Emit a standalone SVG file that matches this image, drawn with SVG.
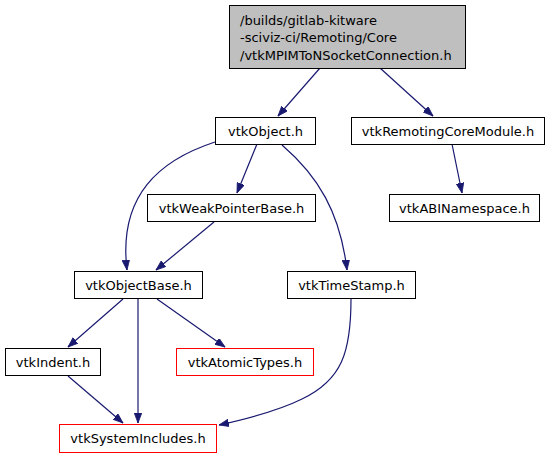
<svg xmlns="http://www.w3.org/2000/svg" width="552" height="459" viewBox="0 0 552 459">
<style>
.node rect{fill:#ffffff;stroke:#000000;stroke-width:1}
.node.root rect{fill:#bfbfbf}
.node.red rect{stroke:#ff0000}
text{font-family:"DejaVu Sans","Liberation Sans",sans-serif;font-size:13px;fill:#000000}
.c{text-anchor:middle}
.edges path{fill:none;stroke:#191970;stroke-width:1.2;marker-end:url(#arr)}
</style>
<defs>
<marker id="arr" markerUnits="userSpaceOnUse" markerWidth="11" markerHeight="8" refX="10" refY="3.75" orient="auto">
<path d="M0,0 L10,3.75 L0,7.5 z" fill="#191970" stroke="#191970" stroke-width="0.8"/>
</marker>
</defs>
<rect width="552" height="459" fill="#ffffff"/>
<g class="edges">
<path d="M320,68 L278,116"/>
<path d="M380,68 L433,116"/>
<path d="M452,144 L462,193"/>
<path d="M257,144 L237,193"/>
<path d="M215,142 C160,160 118,195 127,270"/>
<path d="M282,145 C318,176 340,212 347,270"/>
<path d="M214,222 L156,270"/>
<path d="M123,299 L68,347"/>
<path d="M138,299 L138,423"/>
<path d="M157,299 L225,347"/>
<path d="M68,376 L123,423"/>
<path d="M351,299 C351,352 342,380 302,399 C282,409 255,417 219,425"/>
</g>
<g id="node_root" class="node root">
<rect x="229.5" y="5.5" width="236" height="63"/>
<text x="240" y="24.5">/builds/gitlab-kitware</text>
<text x="240" y="42">-sciviz-ci/Remoting/Core</text>
<text x="240" y="59.5">/vtkMPIMToNSocketConnection.h</text>
</g>
<g id="node_vtkObject" class="node">
<rect x="215.5" y="117.5" width="100" height="27"/>
<text class="c" x="265.5" y="136">vtkObject.h</text>
</g>
<g id="node_vtkRemotingCoreModule" class="node">
<rect x="351.5" y="117.5" width="193" height="27"/>
<text class="c" x="448" y="136">vtkRemotingCoreModule.h</text>
</g>
<g id="node_vtkABINamespace" class="node">
<rect x="389.5" y="194.5" width="150" height="27"/>
<text class="c" x="464.5" y="213">vtkABINamespace.h</text>
</g>
<g id="node_vtkWeakPointerBase" class="node">
<rect x="147.5" y="194.5" width="168" height="27"/>
<text class="c" x="231.5" y="213">vtkWeakPointerBase.h</text>
</g>
<g id="node_vtkObjectBase" class="node">
<rect x="74.5" y="271.5" width="128" height="27"/>
<text class="c" x="138.5" y="290">vtkObjectBase.h</text>
</g>
<g id="node_vtkTimeStamp" class="node">
<rect x="287.5" y="271.5" width="128" height="27"/>
<text class="c" x="351.5" y="290">vtkTimeStamp.h</text>
</g>
<g id="node_vtkIndent" class="node">
<rect x="5.5" y="348.5" width="95" height="27"/>
<text class="c" x="53" y="367">vtkIndent.h</text>
</g>
<g id="node_vtkAtomicTypes" class="node red">
<rect x="176.5" y="348.5" width="137" height="27"/>
<text class="c" x="245" y="367">vtkAtomicTypes.h</text>
</g>
<g id="node_vtkSystemIncludes" class="node red">
<rect x="59.5" y="424.5" width="157" height="28"/>
<text class="c" x="138" y="443">vtkSystemIncludes.h</text>
</g>
</svg>
